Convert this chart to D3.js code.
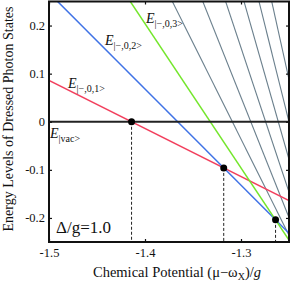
<!DOCTYPE html>
<html>
<head>
<meta charset="utf-8">
<script src="https://cdn.jsdelivr.net/npm/d3@7"></script>
<style>
body { margin: 0; background: #fff; }
svg text { font-family: "Liberation Serif", "Times New Roman", serif; fill: #111; }
.axis path { display: none; }
.axis line { stroke: #111; stroke-width: 1.2; }
.axis text { font-size: 12.5px; font-family: "Liberation Serif", "Times New Roman", serif; }
</style>
</head>
<body>
<svg id="chart" width="291" height="285"></svg>
<script>
// photon number of each dressed state line, and its energy (E - n*omega_X)/g
var photon_n = [0, 1, 2, 3, 4, 5, 6, 7, 8, 9];
var energy = [0, -1.414, -2.732, -3.996, -5.236, -6.449, -7.646, -8.828, -10.0, -11.162];
var line_color = ["#222", "#f2405e", "#3f72e6", "#74e62c", "#6a7f8c", "#6a7f8c", "#6a7f8c", "#6a7f8c", "#6a7f8c", "#6a7f8c"];
// ground state crossing points (x)
var cross_x = [-1.414, -1.318, -1.264];
var cross_from = [0, 1, 2];
var x_ticks = [-1.5, -1.4, -1.3];
var y_ticks = [-0.2, -0.1, 0, 0.1, 0.2];

var p_left = 49, p_right = 289, p_top = 1.5, p_bottom = 242;
var svg = d3.select("#chart");
var x = d3.scaleLinear().domain([-1.5, -1.25]).range([p_left, p_right]);
var y = d3.scaleLinear().domain([-0.25, 0.25]).range([p_bottom, p_top]);

svg.append("defs").append("clipPath").attr("id", "clip")
    .append("rect")
        .attr("x", p_left).attr("y", p_top)
        .attr("width", p_right - p_left).attr("height", p_bottom - p_top);

var fmt = function (d) { return d === 0 ? "0" : d.toFixed(1); };
var plot = svg.append("g").attr("clip-path", "url(#clip)");

function level(i, xv) { return energy[i] - photon_n[i] * xv; }

// lines, grey ones first so the coloured ones sit on top
var order = [4, 5, 6, 7, 8, 9, 1, 2, 3, 0];
order.forEach(function (i) {
    var xs = x.domain();
    plot.append("line")
        .attr("x1", x(xs[0])).attr("y1", y(level(i, xs[0])))
        .attr("x2", x(xs[1])).attr("y2", y(level(i, xs[1])))
        .attr("stroke", line_color[i])
        .attr("stroke-width", i === 0 ? 2 : (i > 3 ? 1.1 : 1.5));
});

// dashed drops and dots
cross_x.forEach(function (cx, k) {
    var cy = level(cross_from[k], cx);
    svg.append("line")
        .attr("x1", x(cx)).attr("x2", x(cx))
        .attr("y1", y(cy)).attr("y2", p_bottom)
        .attr("stroke", "#222").attr("stroke-width", 1)
        .attr("stroke-dasharray", "3,2");
    svg.append("circle")
        .attr("cx", x(cx)).attr("cy", y(cy)).attr("r", 3.5)
        .attr("fill", "#000");
});

// axes with inward ticks
svg.append("g").attr("class", "axis")
    .attr("transform", "translate(" + p_left + ",0)")
    .call(d3.axisLeft(y).tickValues(y_ticks).tickSize(-3).tickPadding(4).tickFormat(fmt))
    .attr("font-family", null);
svg.append("g").attr("class", "axis")
    .attr("transform", "translate(" + p_right + ",0)")
    .call(d3.axisRight(y).tickValues(y_ticks).tickSize(-3).tickFormat(""));
svg.append("g").attr("class", "axis")
    .attr("transform", "translate(0," + p_bottom + ")")
    .call(d3.axisBottom(x).tickValues(x_ticks).tickSize(-3).tickPadding(6).tickFormat(fmt))
    .attr("font-family", null);
svg.append("g").attr("class", "axis")
    .attr("transform", "translate(0," + p_top + ")")
    .call(d3.axisTop(x).tickValues(x_ticks).tickSize(-3).tickFormat(""));

svg.append("rect")
    .attr("x", p_left).attr("y", p_top)
    .attr("width", p_right - p_left).attr("height", p_bottom - p_top)
    .attr("fill", "none").attr("stroke", "#111").attr("stroke-width", 2);

// state labels
function stateLabel(px, py, sub) {
    var t = svg.append("text").attr("x", px).attr("y", py).style("font-size", "14px");
    t.append("tspan").style("font-style", "italic").text("E");
    t.append("tspan").attr("dy", 4).style("font-size", "10px").text(sub);
}
stateLabel(68, 88, "|−,0,1>");
stateLabel(105, 45, "|−,0,2>");
stateLabel(146, 23, "|−,0,3>");
stateLabel(50, 138, "|vac>");

svg.append("text")
    .attr("x", 56).attr("y", 233)
    .style("font-size", "17px")
    .text("Δ/g=1.0");

// axis titles
var xl = svg.append("text")
    .attr("x", 177).attr("y", 277)
    .attr("text-anchor", "middle")
    .style("font-size", "14.5px");
xl.append("tspan").text("Chemical Potential (μ−ω");
xl.append("tspan").attr("dy", 3).style("font-size", "10px").text("X");
xl.append("tspan").attr("dy", -3).text(")/");
xl.append("tspan").style("font-style", "italic").text("g");

svg.append("text")
    .attr("transform", "translate(13,119) rotate(-90)")
    .attr("text-anchor", "middle")
    .style("font-size", "14px")
    .text("Energy Levels of Dressed Photon States");
</script>
</body>
</html>
